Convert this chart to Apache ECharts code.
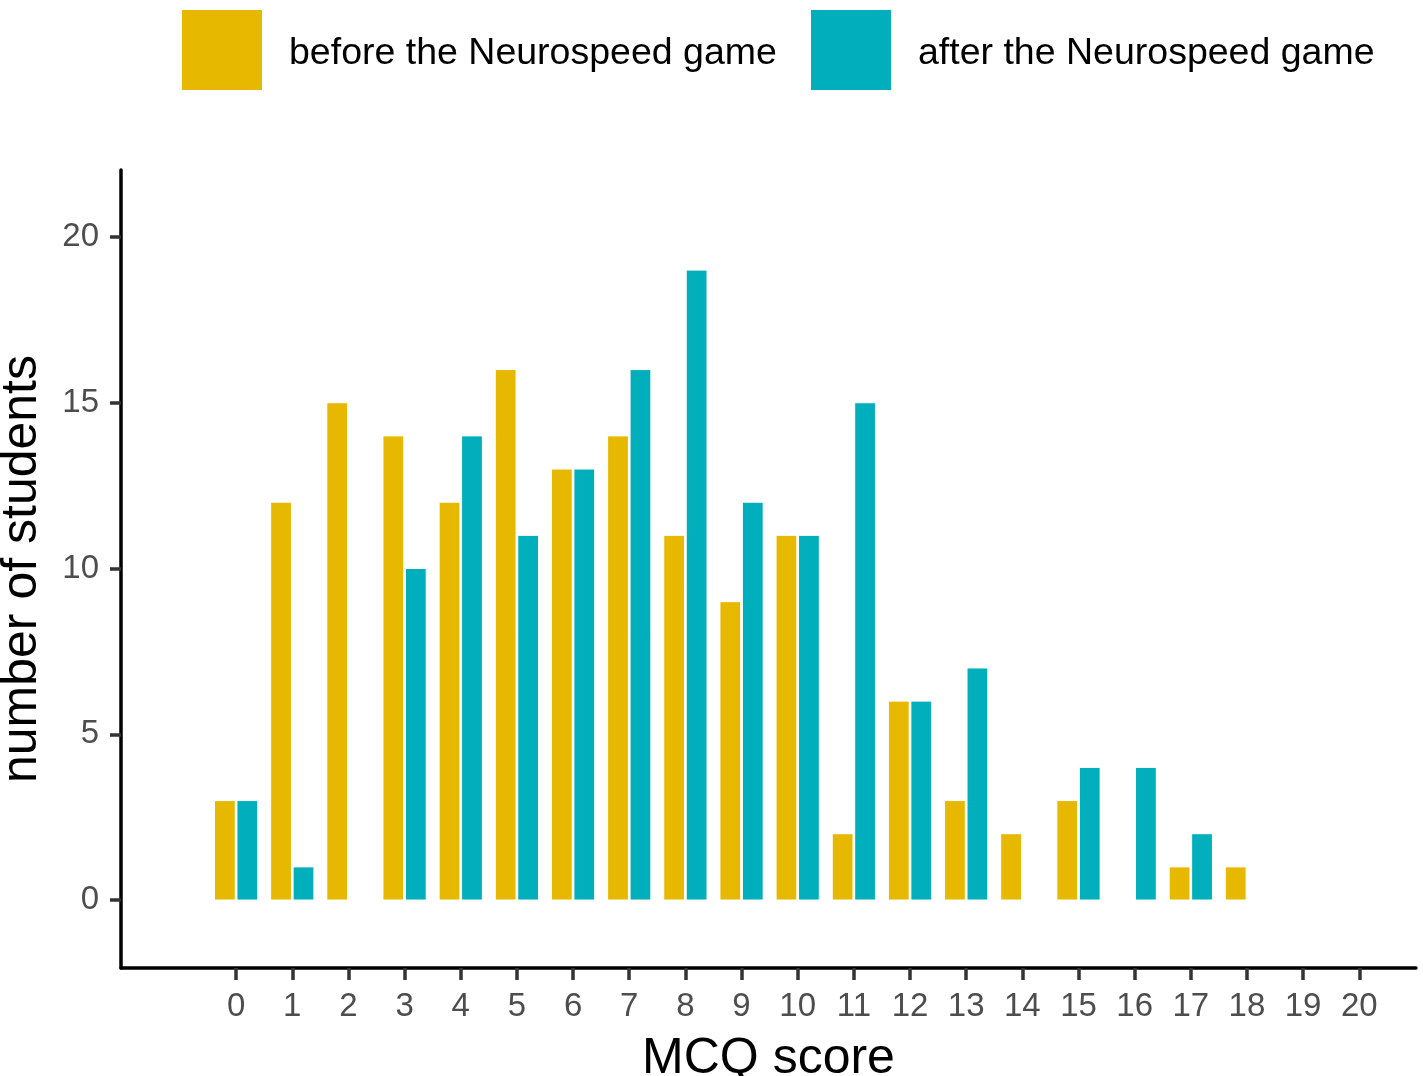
<!DOCTYPE html>
<html>
<head>
<meta charset="utf-8">
<script src="https://cdn.jsdelivr.net/npm/echarts@6/dist/echarts.min.js"></script>
<style>
  html, body { margin: 0; padding: 0; background: #fff; }
  #chart { width: 1423px; height: 1076px; }
</style>
</head>
<body>
<div id="chart"></div>
<script>
var scores = [0, 1, 2, 3, 4, 5, 6, 7, 8, 9, 10, 11, 12, 13, 14, 15, 16, 17, 18, 19, 20];
var before = [3, 12, 15, 14, 12, 16, 13, 14, 11, 9, 11, 2, 6, 3, 2, 3, 0, 1, 1, 0, 0];
var after = [3, 1, 0, 10, 14, 11, 13, 16, 19, 12, 11, 15, 6, 7, 0, 4, 4, 2, 0, 0, 0];
var yTicks = [0, 5, 10, 15, 20];
var names = ['before the Neurospeed game', 'after the Neurospeed game'];
var colors = ['#E7B800', '#00AFBB'];

var font = 'Liberation Sans, Helvetica, Arial, sans-serif';
var halfW = 0.185;

function pairs(vals) {
  return scores.map(function (s, i) { return [s, vals[i]]; });
}

// dodged bars, drawn through the axis scales
function dodge(offset) {
  return function (params, api) {
    var x = api.value(0), y = api.value(1);
    if (!y) return null;
    var p1 = api.coord([x + offset - halfW, y]);
    var p2 = api.coord([x + offset + halfW, 0]);
    return {
      type: 'rect',
      shape: { x: p1[0], y: p1[1], width: p2[0] - p1[0], height: p2[1] - p1[1] },
      style: { fill: api.visual('color'), stroke: '#fff', lineWidth: 1 }
    };
  };
}

var legendText = {
  fontSize: 37.5, color: '#000', fontFamily: font, padding: [0, 0, 0, 22],
  rich: { t: { fontSize: 37.5, color: '#000', fontFamily: font, padding: [7, 0, 0, 0] } }
};

var chart = echarts.init(document.getElementById('chart'));
chart.setOption({
  animation: false,
  textStyle: { fontFamily: font },
  legend: [
    {
      data: [names[0]], left: 182, top: 10, padding: 0, icon: 'rect',
      itemWidth: 80, itemHeight: 80, selectedMode: false, textStyle: legendText,
      formatter: '{t|{name}}'
    },
    {
      data: [names[1]], left: 811, top: 10, padding: 0, icon: 'rect',
      itemWidth: 80, itemHeight: 80, selectedMode: false, textStyle: legendText,
      formatter: '{t|{name}}'
    }
  ],
  grid: { left: 121, right: 7, top: 170, bottom: 108, containLabel: false, outerBoundsMode: 'none' },
  xAxis: {
    type: 'value', min: -2.05, max: 21.01,
    name: 'MCQ score', nameLocation: 'middle', nameGap: 66,
    nameTextStyle: { fontSize: 50, color: '#000', fontFamily: font },
    splitLine: { show: false },
    axisLine: { show: true, onZero: false, lineStyle: { color: '#000', width: 3.5 } },
    axisTick: { show: true, length: 12, customValues: scores, lineStyle: { color: '#333', width: 3.5 } },
    axisLabel: { customValues: scores, fontSize: 33, color: '#4D4D4D', margin: 22, fontFamily: font }
  },
  yAxis: {
    type: 'value', min: -2.05, max: 22.02,
    name: 'number of students', nameLocation: 'middle', nameGap: 74,
    nameTextStyle: { fontSize: 50, color: '#000', fontFamily: font },
    splitLine: { show: false },
    axisLine: { show: true, onZero: false, lineStyle: { color: '#000', width: 3.5 } },
    axisTick: { show: true, length: 11, customValues: yTicks, lineStyle: { color: '#333', width: 3.5 } },
    axisLabel: { customValues: yTicks, fontSize: 33, color: '#4D4D4D', margin: 22, fontFamily: font }
  },
  series: [
    {
      name: names[0], type: 'custom', data: pairs(before),
      itemStyle: { color: colors[0] }, renderItem: dodge(-0.2),
      encode: { x: 0, y: 1 }
    },
    {
      name: names[1], type: 'custom', data: pairs(after),
      itemStyle: { color: colors[1] }, renderItem: dodge(0.2),
      encode: { x: 0, y: 1 }
    }
  ]
});
</script>
</body>
</html>
